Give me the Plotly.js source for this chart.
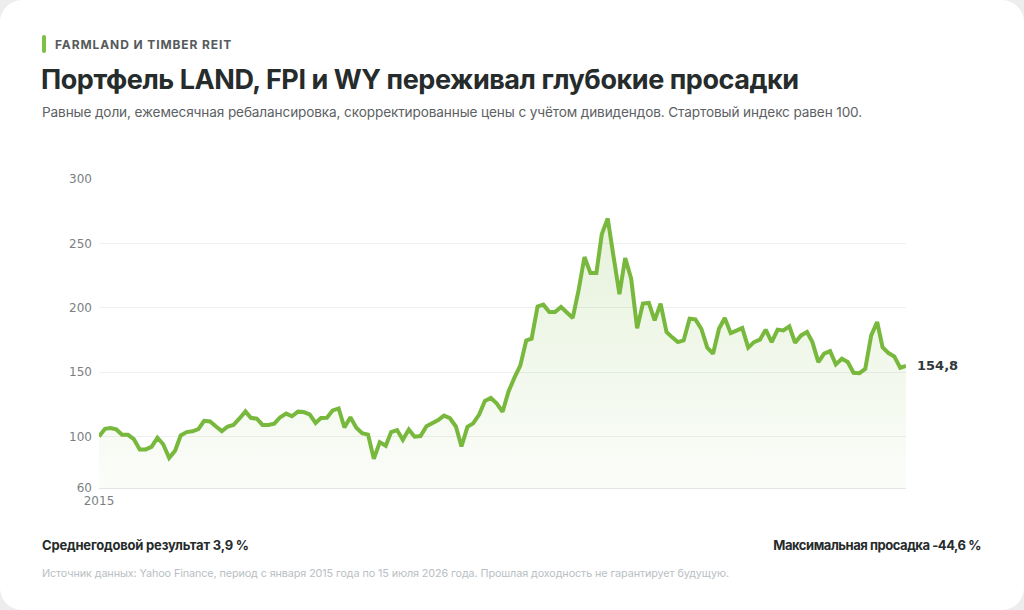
<!DOCTYPE html>
<html>
<head>
<meta charset="utf-8">
<script src="https://cdn.plot.ly/plotly-3.0.1.min.js"></script>
<style>
  html, body { margin: 0; padding: 0; background: #ededed; }
  .card {
    position: relative; width: 1024px; height: 610px;
    background: #ffffff; border-radius: 22px; overflow: hidden;
    font-family: Inter, "Noto Sans", sans-serif;
  }
  .txt { position: absolute; white-space: nowrap; pointer-events: none; }
  #bar { position: absolute; left: 42px; top: 35px; width: 4px; height: 18px; border-radius: 2px; background: #7cc142; }
  #kicker { left: 55px; top: 37px; font-size: 12px; font-weight: 700; letter-spacing: 0.9px; color: #555a5c; }
  #title { left: 41px; top: 63px; font-size: 27px; font-weight: 700; letter-spacing: -0.45px; color: #262b2b; }
  #sub { left: 42px; top: 104px; font-size: 13.6px; color: #5c6163; letter-spacing: -0.12px; }
  #cagr { left: 42px; top: 537px; font-size: 13px; font-weight: 700; color: #262b2b; letter-spacing: -0.2px; }
  #mdd { right: 43px; top: 537px; font-size: 13px; font-weight: 700; color: #262b2b; letter-spacing: -0.45px; }
  #src { left: 42px; top: 567px; font-size: 10.8px; color: #b9c0c4; letter-spacing: -0.1px; }
  #chart { position: absolute; left: 0; top: 0; width: 1024px; height: 610px; }
</style>
</head>
<body>
<div class="card">
  <div id="chart"></div>
  <div id="bar"></div>
  <div class="txt" id="kicker">FARMLAND И TIMBER REIT</div>
  <div class="txt" id="title">Портфель LAND, FPI и WY переживал глубокие просадки</div>
  <div class="txt" id="sub">Равные доли, ежемесячная ребалансировка, скорректированные цены с учётом дивидендов. Стартовый индекс равен 100.</div>
  <div class="txt" id="cagr">Среднегодовой результат 3,9 %</div>
  <div class="txt" id="mdd">Максимальная просадка -44,6 %</div>
  <div class="txt" id="src">Источник данных: Yahoo Finance, период с января 2015 года по 15 июля 2026 года. Прошлая доходность не гарантирует будущую.</div>
</div>
<script>
// monthly portfolio index, Jan 2015 .. Jul 2026
var indexValues = [
  100, 106, 106.5, 105.5, 101.3, 101.3, 98, 90, 90, 92, 99, 94,
  83.4, 89, 100.8, 103.4, 104, 105.7, 112.2, 111.7, 107.8, 104.2, 107.8, 109,
  114, 119.5, 114.5, 113.8, 109, 109, 110, 115, 117.8, 115.7, 119.3, 119,
  117.2, 110.5, 114.3, 114.5, 120.3, 121.8, 107, 115, 106.8, 102.6, 101.5, 82.6,
  95.6, 92.8, 103.4, 105, 97.4, 105.4, 99.8, 100.3, 108, 110.3, 112.7, 116.2,
  114.2, 107.8, 92.2, 107.5, 110.2, 117, 127.6, 129.9, 125.6, 119.2, 135, 145.5,
  155, 174.6, 176, 201, 202.4, 196.7, 196.7, 200.6, 196.7, 192.1, 214, 239.4,
  227, 227, 257, 269.3, 240, 210.6, 238.6, 222.6, 184, 203.2, 203.7, 190.2,
  203.2, 181.1, 177.2, 173.3, 174.6, 191.5, 191, 183.7, 169, 164.3, 183.7, 192,
  180.3, 182.4, 184.2, 169, 173.3, 175.2, 183, 173.3, 183, 182.4, 185.5, 172.8,
  178.5, 181.1, 173.3, 157.8, 164.3, 166.3, 156, 160.4, 157.8, 149.5, 149.2, 152.6,
  178.5, 188.9, 169.4, 164.8, 162.2, 153.4, 154.8
];
var startYear = 2015;
var yTicks = [60, 100, 150, 200, 250, 300];
var xTickVals = ['2015-01-01'];
var xTickText = ['2015'];
var lastLabel = '154,8';

var months = [];
for (var i = 0; i < indexValues.length; i++) {
  var y = startYear + Math.floor(i / 12);
  var m = (i % 12) + 1;
  months.push(y + '-' + (m < 10 ? '0' + m : m) + '-01');
}

var green = '#77b83d';

var trace = {
  x: months,
  y: indexValues,
  type: 'scatter',
  mode: 'lines',
  line: { color: green, width: 4, shape: 'linear' },
  fill: 'tozeroy',
  fillgradient: {
    type: 'vertical',
    start: 60,
    stop: 270,
    colorscale: [[0, 'rgba(119,184,61,0.03)'], [1, 'rgba(119,184,61,0.18)']]
  },
  hoverinfo: 'skip'
};

var layout = {
  width: 1024,
  height: 610,
  margin: { l: 99, r: 118, t: 179, b: 122 },
  paper_bgcolor: 'rgba(0,0,0,0)',
  plot_bgcolor: 'rgba(0,0,0,0)',
  showlegend: false,
  font: { family: 'DejaVu Sans, sans-serif', size: 12, color: '#7a7f83' },
  xaxis: {
    type: 'date',
    range: [months[0], months[months.length - 1]],
    tickvals: xTickVals,
    ticktext: xTickText,
    showgrid: false,
    zeroline: false,
    showline: true,
    linecolor: '#e2e4e5',
    linewidth: 1,
    ticks: '',
    ticklabelstandoff: 2,
    tickfont: { size: 12, color: '#7a7f83' }
  },
  yaxis: {
    range: [60, 300],
    tickvals: yTicks,
    ticktext: yTicks.map(String),
    showgrid: true,
    gridcolor: '#efefef',
    gridwidth: 1,
    zeroline: false,
    ticks: '',
    ticklabelstandoff: 6,
    tickfont: { size: 12, color: '#7a7f83' }
  },
  shapes: [{
    type: 'line', xref: 'paper', x0: 0, x1: 1, yref: 'y', y0: 100, y1: 100,
    line: { color: '#c4cbd1', width: 1, dash: 'dash' }, layer: 'below'
  }],
  annotations: [{
    x: months[months.length - 1],
    y: indexValues[indexValues.length - 1],
    xref: 'x', yref: 'y',
    text: '<b>' + lastLabel + '</b>',
    showarrow: false,
    xanchor: 'left',
    yanchor: 'middle',
    xshift: 9,
    font: { family: 'DejaVu Sans, sans-serif', size: 13, color: '#33383a' }
  }]
};

Plotly.newPlot('chart', [trace], layout, { displayModeBar: false, staticPlot: true });
</script>
</body>
</html>
